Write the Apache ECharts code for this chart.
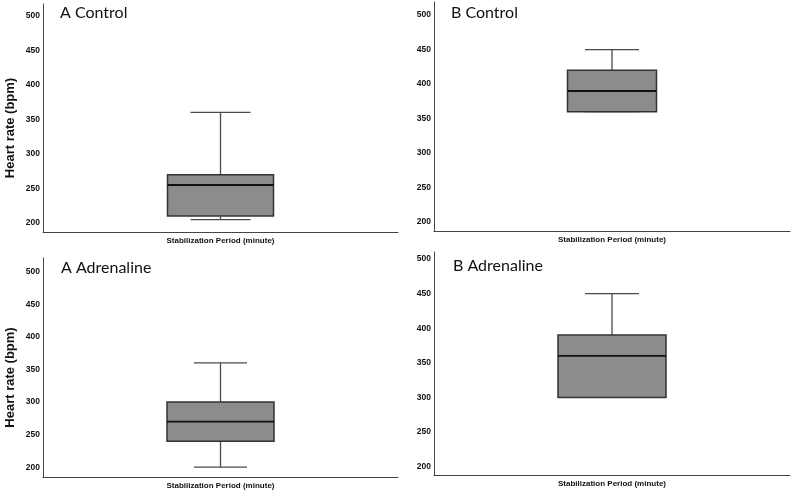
<!DOCTYPE html>
<html>
<head>
<meta charset="utf-8">
<script src="https://cdn.jsdelivr.net/npm/echarts@6/dist/echarts.min.js"></script>
<style>
  html, body { margin: 0; padding: 0; background: #fff; }
  #chart { width: 791px; height: 492px; }
</style>
</head>
<body>
<div id="chart"></div>
<script>
  // one entry per panel: A Control, B Control, A Adrenaline, B Adrenaline
  const panelTitles = ['A Control', 'B Control', 'A Adrenaline', 'B Adrenaline'];
  const whiskerLow = [205, 360, 200, 300];
  const q1 = [210, 360, 240, 300];
  const median = [255, 390, 270, 360];
  const q3 = [270, 420, 300, 390];
  const whiskerHigh = [360, 450, 360, 450];
  const yTicks = [200, 250, 300, 350, 400, 450, 500];
  const xName = 'Stabilization Period (minute)';
  const yName = 'Heart rate (bpm)';

  // layout of each panel (pixels), kept apart from the data
  const layout = [
    { left: 43, top: 4, width: 355, height: 228, min: 187, max: 517, box: 106, cap: 60, tx: 60, ty: 5 },
    { left: 434, top: 2, width: 356, height: 229, min: 187, max: 519, box: 89, cap: 54, tx: 451, ty: 5 },
    { left: 43, top: 258, width: 355, height: 219, min: 185, max: 521, box: 107, cap: 53, tx: 61, ty: 260 },
    { left: 434, top: 252, width: 356, height: 223, min: 188, max: 510, box: 108, cap: 54, tx: 453, ty: 258 }
  ];

  const axisColor = '#444';

  function renderBox(params, api) {
    const look = layout[params.seriesIndex];
    const x = api.value(0);
    const pt = v => api.coord([x, v]);
    const lo = pt(api.value(1));
    const b1 = pt(api.value(2));
    const md = pt(api.value(3));
    const b3 = pt(api.value(4));
    const hi = pt(api.value(5));
    const cx = lo[0];
    const hw = look.box / 2;
    const hc = look.cap / 2;
    const whisker = { stroke: '#4a4a4a', lineWidth: 1.3 };
    const seg = (x1, y1, x2, y2, style) => ({ type: 'line', shape: { x1, y1, x2, y2 }, style });
    return {
      type: 'group',
      children: [
        seg(cx, hi[1], cx, b3[1], whisker),
        seg(cx - hc, hi[1], cx + hc, hi[1], whisker),
        seg(cx, b1[1], cx, lo[1], whisker),
        seg(cx - hc, lo[1], cx + hc, lo[1], whisker),
        {
          type: 'rect',
          shape: { x: cx - hw, y: b3[1], width: look.box, height: b1[1] - b3[1] },
          style: { fill: '#8c8c8c', stroke: '#333', lineWidth: 1.5 }
        },
        seg(cx - hw, md[1], cx + hw, md[1], { stroke: '#111', lineWidth: 1.8 })
      ]
    };
  }

  const grids = [], xAxes = [], yAxes = [], series = [], titles = [];
  panelTitles.forEach((name, i) => {
    const L = layout[i];
    grids.push({ left: L.left, top: L.top, width: L.width, height: L.height });
    titles.push({
      text: name, left: L.tx, top: L.ty, padding: 0,
      textStyle: { fontFamily: 'Lato', fontSize: 16, fontWeight: 'normal', color: '#111' }
    });
    xAxes.push({
      type: 'category', gridIndex: i, data: [''],
      name: xName, nameLocation: 'middle', nameGap: 5,
      nameTextStyle: { fontFamily: 'Liberation Sans', fontSize: 8, fontWeight: 'bold', color: '#111' },
      axisLine: { lineStyle: { color: axisColor, width: 1 } },
      axisTick: { show: false }, axisLabel: { show: false }, splitLine: { show: false }
    });
    yAxes.push({
      type: 'value', gridIndex: i, min: L.min, max: L.max,
      name: i % 2 === 0 ? yName : '', nameLocation: 'middle', nameGap: 26,
      nameTextStyle: { fontFamily: 'Liberation Sans', fontSize: 13, fontWeight: 'bold', color: '#111', padding: [0, 20, 0, 0] },
      axisLine: { show: true, lineStyle: { color: axisColor, width: 1 } },
      axisTick: { show: false }, splitLine: { show: false },
      axisLabel: {
        customValues: yTicks, margin: 3,
        fontFamily: 'Liberation Sans', fontSize: 8.5, fontWeight: 'bold', color: '#111'
      }
    });
    series.push({
      type: 'custom', xAxisIndex: i, yAxisIndex: i,
      renderItem: renderBox,
      encode: { x: 0, y: [1, 2, 3, 4, 5] },
      data: [[0, whiskerLow[i], q1[i], median[i], q3[i], whiskerHigh[i]]],
      silent: true
    });
  });

  const chart = echarts.init(document.getElementById('chart'), null, { renderer: 'canvas' });
  chart.setOption({
    animation: false,
    backgroundColor: '#fff',
    title: titles,
    grid: grids,
    xAxis: xAxes,
    yAxis: yAxes,
    series: series
  });
</script>
</body>
</html>
